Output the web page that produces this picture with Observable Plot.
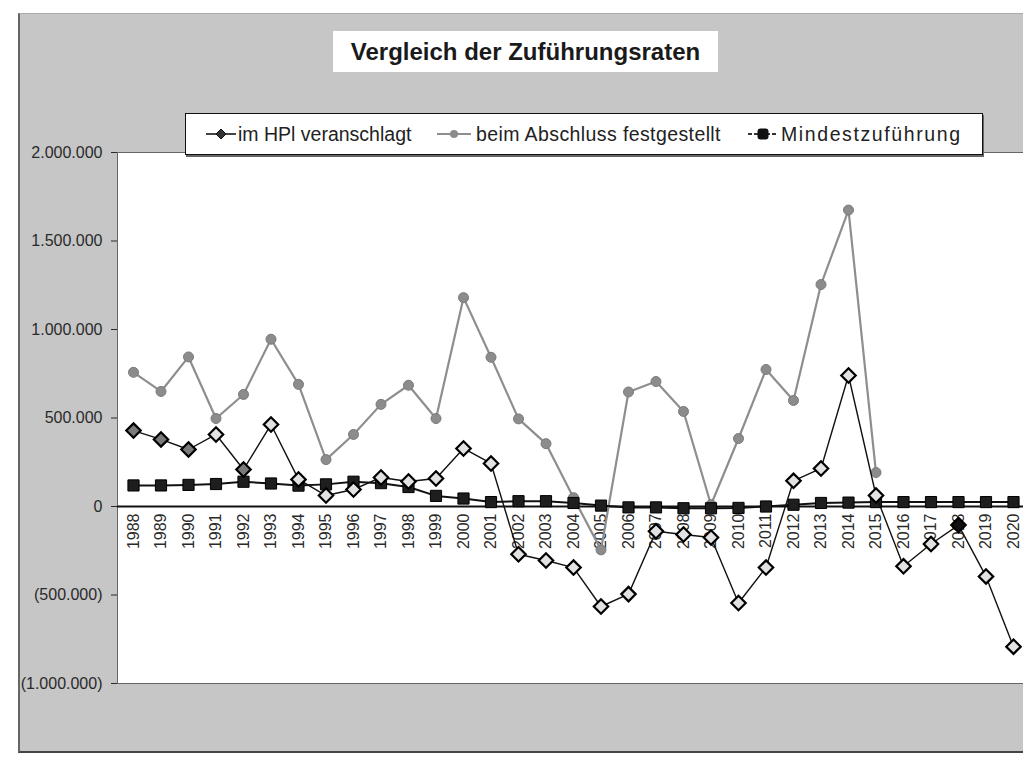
<!DOCTYPE html>
<html>
<head>
<meta charset="utf-8">
<script src="https://cdn.jsdelivr.net/npm/d3@7"></script>
<script src="https://cdn.jsdelivr.net/npm/@observablehq/plot@0.6"></script>
<style>
  body { margin: 0; background: #fff; }
  #root { position: relative; width: 1023px; height: 758px; overflow: hidden; background: #fff; font-family: Arial, "Liberation Sans", sans-serif; }
  #panel { position: absolute; left: 18px; top: 13px; width: 1020px; height: 737px; background: #c6c6c6; border-left: 2px solid #666; border-bottom: 2px solid #444; border-top: 1px solid #aaa; }
  #chart { position: absolute; left: 0; top: 0; }
  #title { position: absolute; left: 333px; top: 31px; width: 385px; height: 41px; background: #fff; line-height: 41px; text-align: center; font-weight: bold; font-size: 24px; color: #1a1a1a; }
  #legend { position: absolute; left: 185px; top: 113px; width: 796px; height: 40px; background: #fff; border: 1.5px solid #111; box-shadow: 1px 2px 0 #666; }
  .lg { position: absolute; top: 0; height: 40px; line-height: 40px; font-size: 19.5px; color: #222; white-space: nowrap; }
  .lgsym { position: absolute; top: 13px; }
</style>
</head>
<body>
<div id="root">
  <div id="panel"></div>
  <div id="chart"></div>
  <div id="title">Vergleich der Zuführungsraten</div>
  <div id="legend"></div>
</div>
<script>
// ---- data ----
const years = [1988, 1989, 1990, 1991, 1992, 1993, 1994, 1995, 1996, 1997, 1998,
  1999, 2000, 2001, 2002, 2003, 2004, 2005, 2006, 2007, 2008, 2009, 2010,
  2011, 2012, 2013, 2014, 2015, 2016, 2017, 2018, 2019, 2020];

// "im HPl veranschlagt"
const hpl = [429000, 379000, 322000, 407000, 209000, 463000, 153000, 62000, 96000,
  164000, 141000, 158000, 328000, 243000, -270000, -305000, -345000, -565000,
  -495000, -140000, -158000, -175000, -545000, -345000, 145000, 215000, 740000,
  62000, -338000, -212000, -105000, -395000, -792000];

// "beim Abschluss festgestellt"
const abschluss = [758000, 650000, 845000, 497000, 633000, 945000, 690000, 265000,
  407000, 577000, 685000, 497000, 1180000, 843000, 495000, 355000, 50000, -245000,
  647000, 706000, 537000, 10000, 384000, 774000, 599000, 1254000, 1675000, 192000,
  null, null, null, null, null];

// "Mindestzuführung"
const mindest = [119000, 119000, 122000, 127000, 140000, 130000, 118000, 125000,
  140000, 132000, 110000, 60000, 45000, 25000, 30000, 30000, 20000, 5000, -5000,
  -5000, -10000, -10000, -8000, 0, 10000, 20000, 22000, 25000, 25000, 25000, 25000,
  25000, 25000];

// HPl markers drawn filled in the reference (dark gray / black)
const hplGrayYears = [1988, 1989, 1990, 1992];
const hplFilledYears = [2018];

const yTicks = [-1000000, -500000, 0, 500000, 1000000, 1500000, 2000000];

const seriesNames = ["im HPl veranschlagt", "beim Abschluss festgestellt", "Mindestzuführung"];
const titleText = "Vergleich der Zuführungsraten";

// ---- table ----
const rows = years.map((year, i) => ({
  year, hpl: hpl[i], abschluss: abschluss[i], mindest: mindest[i]
}));

const grp = d3.format(",");
const fmt = v => v === 0 ? "0" : v < 0 ? "(" + grp(-v).replace(/,/g, ".") + ")" : grp(v).replace(/,/g, ".");

const chart = Plot.plot({
  width: 1023,
  height: 758,
  marginLeft: 117,
  marginRight: 0,
  marginTop: 152,
  marginBottom: 75,
  style: { background: "transparent", fontSize: "16px", fontFamily: "Arial, 'Liberation Sans', sans-serif", color: "#2a2a2a", overflow: "visible" },
  x: { type: "linear", domain: [1988, 2020], range: [133, 1013], axis: null },
  y: { domain: [-1000000, 2000000], range: [683, 152], ticks: yTicks, tickFormat: fmt,
       tickSize: 6, tickPadding: 9, label: null, line: true },
  marks: [
    Plot.frame({ fill: "white", stroke: "#666", strokeWidth: 1 }),
    Plot.ruleY([0], { stroke: "#111", strokeWidth: 2.2 }),
    Plot.text(years, { x: d => d, y: () => 0, text: d => String(d), rotate: -90,
      textAnchor: "end", dy: 7, fontSize: 16, fill: "#2a2a2a" }),
    // beim Abschluss festgestellt
    Plot.line(rows, { x: "year", y: "abschluss", stroke: "#8e8e8e", strokeWidth: 2.2 }),
    Plot.dot(rows.filter(d => d.abschluss != null), { x: "year", y: "abschluss", r: 5, fill: "#8c8c8c", stroke: "#7a7a7a", strokeWidth: 1 }),
    // Mindestzuführung
    Plot.line(rows, { x: "year", y: "mindest", stroke: "#111", strokeWidth: 2 }),
    Plot.dot(rows, { x: "year", y: "mindest", symbol: "square", r: 6.3, fill: "#1e1e1e", stroke: "#000", strokeWidth: 1 }),
    // im HPl veranschlagt
    Plot.line(rows, { x: "year", y: "hpl", stroke: "#111", strokeWidth: 1.4 }),
    Plot.dot(rows, { x: "year", y: "hpl", symbol: "diamond2", r: 6.5,
      fill: d => hplFilledYears.includes(d.year) ? "#111" : hplGrayYears.includes(d.year) ? "#7a7a7a" : "#e2e2e2",
      stroke: "#000", strokeWidth: 2.2 })
  ]
});
document.getElementById("chart").appendChild(chart);

document.getElementById("title").textContent = titleText;

// ---- legend ----
const legend = document.getElementById("legend");
const legendItems = [
  { name: seriesNames[0], symLeft: 20, textLeft: 52, spacing: 0,
    svg: '<svg width="30" height="14"><line x1="0" y1="7" x2="30" y2="7" stroke="#444" stroke-width="2"/><path d="M15,2 L20,7 L15,12 L10,7 Z" fill="#333" stroke="#111"/></svg>' },
  { name: seriesNames[1], symLeft: 251, textLeft: 290, spacing: 0.4,
    svg: '<svg width="34" height="14"><line x1="0" y1="7" x2="34" y2="7" stroke="#8e8e8e" stroke-width="2"/><circle cx="17" cy="7" r="4" fill="#8c8c8c"/></svg>' },
  { name: seriesNames[2], symLeft: 562, textLeft: 595, spacing: 1.6,
    svg: '<svg width="30" height="14"><line x1="0" y1="7" x2="30" y2="7" stroke="#333" stroke-width="2" stroke-dasharray="4 2"/><rect x="9.5" y="1.5" width="11" height="11" rx="3" fill="#111"/></svg>' }
];
for (const it of legendItems) {
  const s = document.createElement("div");
  s.className = "lgsym";
  s.style.left = it.symLeft + "px";
  s.innerHTML = it.svg;
  legend.appendChild(s);
  const t = document.createElement("div");
  t.className = "lg";
  t.style.left = it.textLeft + "px";
  t.style.letterSpacing = it.spacing + "px";
  t.textContent = it.name;
  legend.appendChild(t);
}
</script>
</body>
</html>
